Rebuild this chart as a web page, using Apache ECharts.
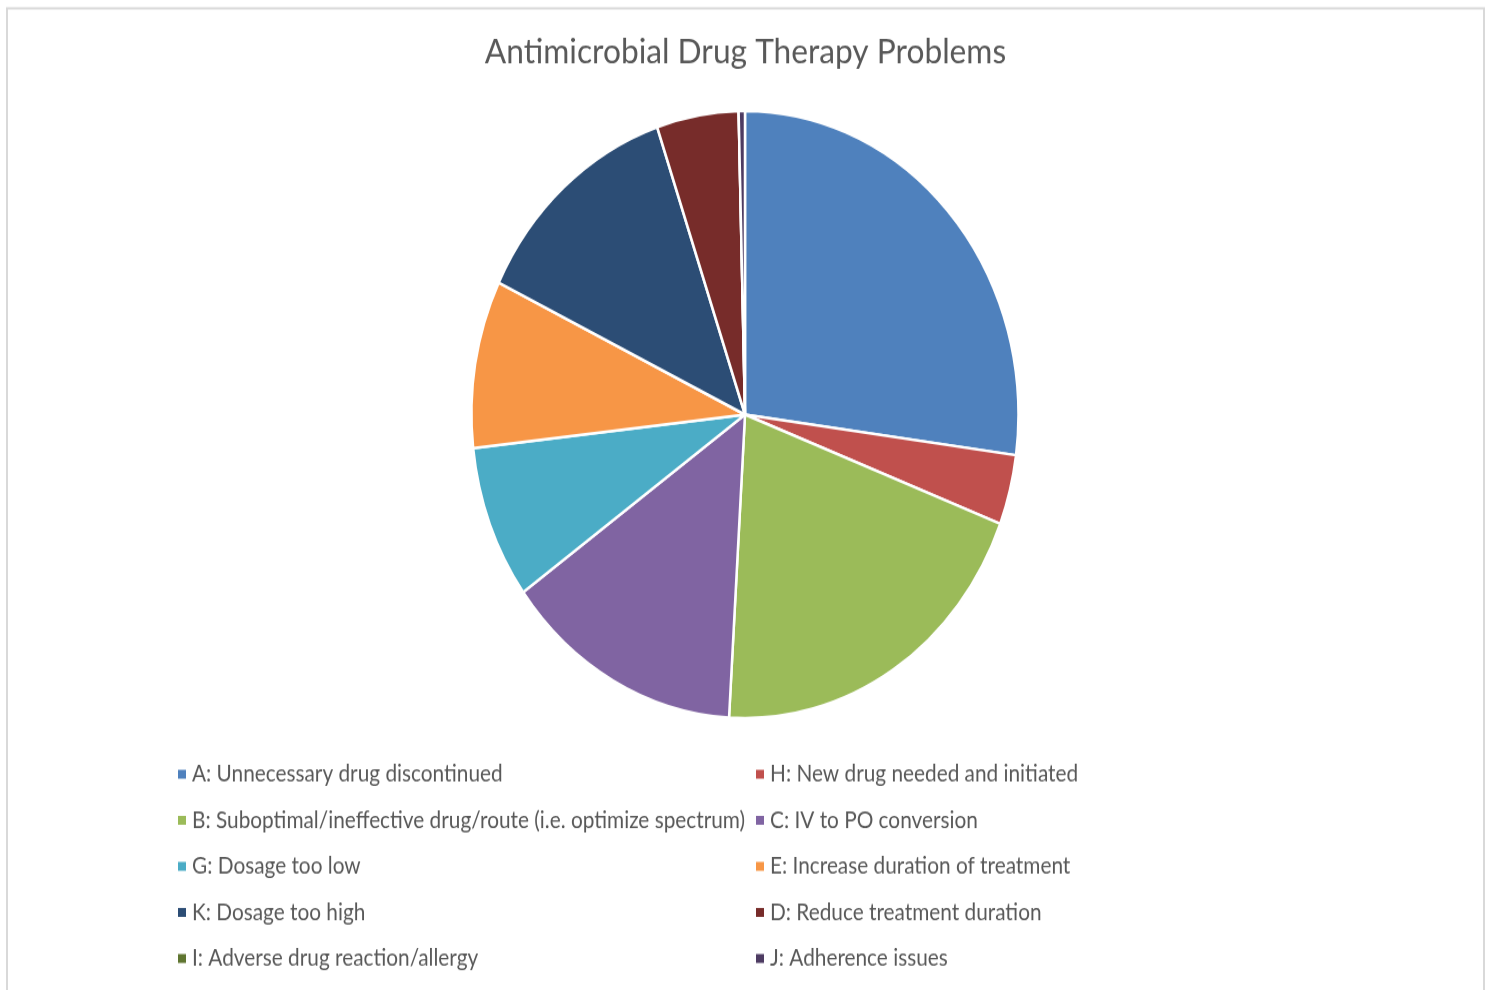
<!DOCTYPE html>
<html>
<head>
<meta charset="utf-8">
<title>Antimicrobial Drug Therapy Problems</title>
<script src="https://cdn.jsdelivr.net/npm/echarts@6/dist/echarts.min.js"></script>
<style>
  html, body { margin: 0; padding: 0; background: #fff; width: 1491px; height: 990px; }
  /* the source picture is stretched vertically, so the whole chart is too */
  #chart { width: 1491px; height: 892px; transform: scaleY(1.11); transform-origin: 0 0; }
</style>
</head>
<body>
<div id="chart"></div>
<script>
// slice order, clockwise from 12 o'clock
const categories = [
  'A: Unnecessary drug discontinued',
  'H: New drug needed and initiated',
  'B: Suboptimal/ineffective drug/route (i.e. optimize spectrum)',
  'C: IV to PO conversion',
  'G: Dosage too low',
  'E: Increase duration of treatment',
  'K: Dosage too high',
  'D: Reduce treatment duration',
  'I: Adverse drug reaction/allergy',
  'J: Adherence issues'
];
const counts = [73, 10, 54, 38, 22, 24, 34, 13, 0, 1];
const colors = ['#4F81BD', '#C0504D', '#9BBB59', '#8064A2', '#4BACC6',
                '#F79646', '#2C4D75', '#772C2A', '#5F7530', '#4D3B62'];

// legend columns (Excel lays it out row by row)
const legendLeft = [categories[0], categories[2], categories[4], categories[6], categories[8]];
const legendRight = [categories[1], categories[3], categories[5], categories[7], categories[9]];

const chart = echarts.init(document.getElementById('chart'));

const legendStyle = {
  orient: 'vertical',
  padding: 0,
  icon: 'rect',
  itemWidth: 10,
  itemHeight: 10,
  itemGap: 20.5,
  itemTextGap: 5,
  selectedMode: false,
  textStyle: { fontFamily: 'Lato', fontSize: 20.8, lineHeight: 20, color: '#595959' }
};

chart.setOption({
  backgroundColor: '#fff',
  animation: false,
  color: colors,
  title: {
    text: 'Antimicrobial Drug Therapy Problems',
    left: 'center',
    top: 31,
    padding: 0,
    textStyle: { fontFamily: 'Lato', fontSize: 31.7, fontWeight: 'normal', color: '#595959' }
  },
  graphic: [{
    type: 'rect',
    shape: { x: 7, y: 7.5, width: 1477, height: 900 },
    style: { fill: null, stroke: '#d9d9d9', lineWidth: 2 },
    silent: true
  }],
  legend: [
    Object.assign({ left: 176, top: 687, data: legendLeft }, legendStyle),
    Object.assign({ left: 754, top: 687, data: legendRight }, legendStyle)
  ],
  series: [{
    type: 'pie',
    center: [745, 373.5],
    radius: 273.5,
    startAngle: 90,
    clockwise: true,
    label: { show: false },
    labelLine: { show: false },
    emphasis: { disabled: true },
    itemStyle: { borderColor: '#fff', borderWidth: 2.5 },
    data: categories.map((name, i) => ({ name: name, value: counts[i] }))
  }]
});
</script>
</body>
</html>
